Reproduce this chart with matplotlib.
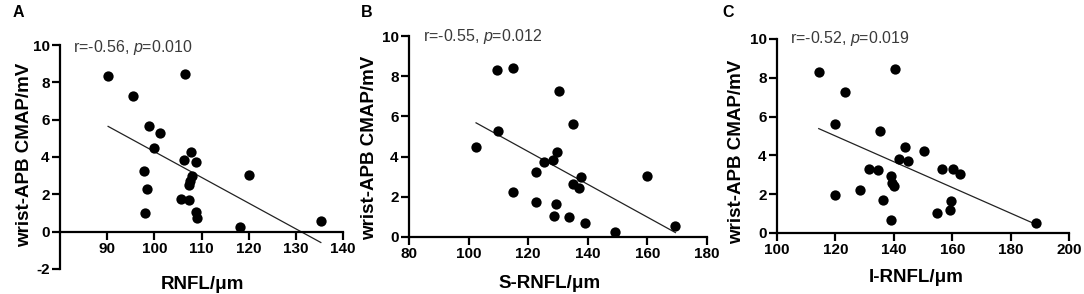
import numpy as np
import matplotlib
matplotlib.use("Agg")
import matplotlib.pyplot as plt

plt.rcParams['font.family'] = ['Liberation Sans', 'DejaVu Sans']
plt.rcParams['mathtext.fontset'] = 'custom'
plt.rcParams['mathtext.rm'] = 'Liberation Sans'
plt.rcParams['mathtext.it'] = 'Liberation Sans:italic'
plt.rcParams['axes.unicode_minus'] = False

# ---- datos ----
rnfl_x = [90.2, 95.4, 106.5, 98.8, 101.1, 99.9, 107.7, 106.2, 108.9, 97.9, 108.0,
          107.6, 107.3, 98.4, 105.6, 107.4, 98.1, 108.8, 109.1, 120.0, 118.1, 135.3]
rnfl_y = [8.33, 7.29, 8.46, 5.64, 5.31, 4.49, 4.25, 3.84, 3.75, 3.27, 3.00,
          2.69, 2.48, 2.28, 1.74, 1.67, 1.00, 1.08, 0.72, 3.05, 0.25, 0.57]
rnfl_fit_x = [90.2, 135.3]
rnfl_fit_y = [5.64, -0.58]

srnfl_x = [109.6, 114.8, 130.2, 135.2, 110.0, 102.4, 129.8, 125.4, 128.3, 122.7, 137.8,
           134.9, 137.1, 159.8, 114.8, 122.5, 129.2, 128.7, 133.7, 139.1, 149.1, 169.4]
srnfl_y = [8.32, 8.43, 7.28, 5.60, 5.27, 4.47, 4.22, 3.73, 3.83, 3.25, 2.97,
           2.62, 2.45, 3.03, 2.25, 1.73, 1.65, 1.03, 1.00, 0.70, 0.23, 0.57]
srnfl_fit_x = [102.5, 169.4]
srnfl_fit_y = [5.68, 0.22]

irnfl_x = [114.3, 140.3, 123.3, 119.7, 135.4, 143.9, 150.3, 141.9, 144.7, 131.5, 134.5,
           156.4, 160.4, 162.7, 138.9, 139.5, 140.0, 119.7, 128.4, 136.4, 159.7, 159.4,
           154.8, 138.9, 188.6]
irnfl_y = [8.32, 8.44, 7.25, 5.60, 5.27, 4.45, 4.23, 3.83, 3.71, 3.32, 3.23,
           3.32, 3.32, 3.02, 2.94, 2.59, 2.42, 1.98, 2.22, 1.68, 1.63, 1.20,
           1.01, 0.69, 0.53]
irnfl_fit_x = [114.3, 188.6]
irnfl_fit_y = [5.38, 0.45]

stats = ["r=-0.56, $\\it{p}$=0.010", "r=-0.55, $\\it{p}$=0.012", "r=-0.52, $\\it{p}$=0.019"]
xlabels = ["RNFL/\u03bcm", "S-RNFL/\u03bcm", "I-RNFL/\u03bcm"]
letters = ["A", "B", "C"]

fig = plt.figure(figsize=(10.84, 2.94), dpi=100)

W, H = 1084.0, 294.0
# posiciones en pixeles: izquierda, abajo, ancho, alto
boxes = [(60, 25, 283, 224), (409, 57, 298, 201), (777, 61, 292, 194)]
xlims = [(80, 140), (80, 180), (100, 200)]
xticks = [np.arange(90, 141, 10), np.arange(80, 181, 20), np.arange(100, 201, 20)]
ylims = [(-2, 10), (0, 10), (0, 10)]
yticks = [np.arange(-2, 11, 2), np.arange(0, 11, 2), np.arange(0, 11, 2)]
letter_x = [13, 361, 722]
xlab_pos = [(0.505, -0.067), (0.473, -0.229), (0.476, -0.227)]
ylab_pos = [(-0.124, 0.509), (-0.131, 0.443), (-0.137, 0.418)]
stat_y = [0.99, 1.0, 1.0]

datos = [(rnfl_x, rnfl_y, rnfl_fit_x, rnfl_fit_y),
         (srnfl_x, srnfl_y, srnfl_fit_x, srnfl_fit_y),
         (irnfl_x, irnfl_y, irnfl_fit_x, irnfl_fit_y)]

for i in range(3):
    l, b, w, h = boxes[i]
    ax = fig.add_axes([l / W, b / H, w / W, h / H])
    x, y, fx, fy = datos[i]
    ax.scatter(x, y, s=55, color='black', zorder=3, clip_on=False, linewidths=0)
    ax.plot(fx, fy, color='#222222', linewidth=0.9, zorder=2, clip_on=False)
    ax.set_xlim(*xlims[i])
    ax.set_ylim(*ylims[i])
    ax.set_xticks(xticks[i])
    ax.set_yticks(yticks[i])
    for sp in ['top', 'right']:
        ax.spines[sp].set_visible(False)
    ax.spines['bottom'].set_position(('data', 0))
    ax.spines['left'].set_linewidth(1.6)
    ax.spines['bottom'].set_linewidth(1.6)
    ax.tick_params(width=1.6, length=5.5, pad=2, labelsize=11)
    for lab in ax.get_xticklabels() + ax.get_yticklabels():
        lab.set_fontweight('bold')
    ax.set_ylabel("wrist-APB CMAP/mV", fontsize=13.5, fontweight='bold', va='center')
    ax.yaxis.set_label_coords(*ylab_pos[i])
    ax.set_xlabel(xlabels[i], fontsize=13.5, fontweight='bold', va='center')
    ax.xaxis.set_label_coords(*xlab_pos[i])
    ax.text(0.046, stat_y[i], stats[i], transform=ax.transAxes, fontsize=11.5,
            color='#3a3a3a', va='center', ha='left')
    fig.text(letter_x[i] / W, 1 - 12.5 / H, letters[i], fontsize=11.5, fontweight='bold',
             va='center', ha='left')

fig.savefig("out.png", dpi=100)
